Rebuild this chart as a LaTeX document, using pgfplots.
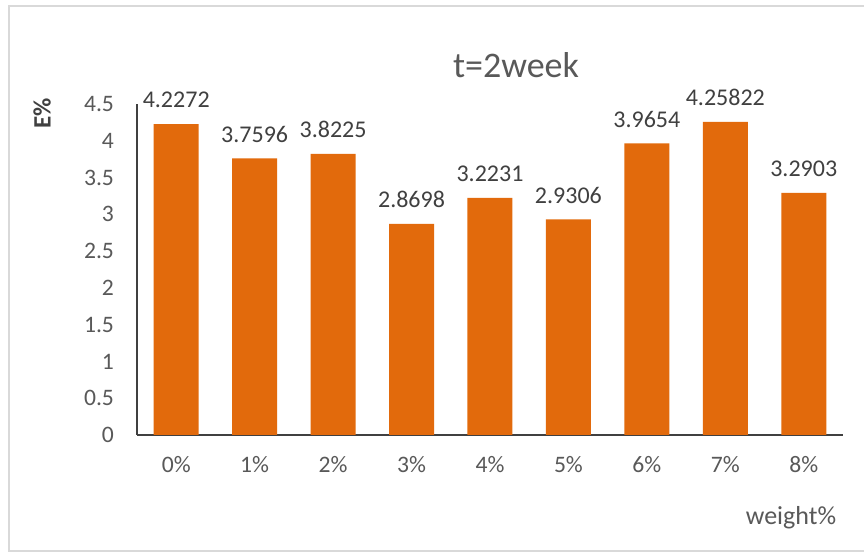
\documentclass[border=0pt]{standalone}
\usepackage{pgfplots}
\pgfplotsset{compat=1.18}
\usepackage{pgfplotstable}
\usepackage{fontspec}
\setmainfont{Carlito}
\definecolor{barorange}{HTML}{E26A0C}
\definecolor{txtgray}{HTML}{595959}
\definecolor{lblgray}{HTML}{404040}
\definecolor{bordergray}{HTML}{D9D9D9}
\pgfplotstableread{
x y lbl
0 4.2272 4.2272
1 3.7596 3.7596
2 3.8225 3.8225
3 2.8698 2.8698
4 3.2231 3.2231
5 2.9306 2.9306
6 3.9654 3.9654
7 4.25822 4.25822
8 3.2903 3.2903
}\datatable
\begin{document}
\begin{tikzpicture}[x=1pt,y=1pt]
\useasboundingbox (0,0) rectangle (432,276);
\fill[white] (0,0) rectangle (432,276);
\draw[bordergray, line width=0.8pt] (432,273) -- (4.5,273) -- (4.5,0.5) -- (432,0.5);
\begin{axis}[
  at={(68.5pt,58.5pt)}, anchor=south west,
  scale only axis, width=353pt, height=165.5pt,
  xmin=-0.5, xmax=8.5, ymin=0, ymax=4.5,
  axis x line=bottom, axis y line=left,
  axis line style={-, draw=black!75, line width=0.6pt},
  xtick=data,
  xticklabels={0\%,1\%,2\%,3\%,4\%,5\%,6\%,7\%,8\%},
  ytick={0,0.5,...,4.5},
  yticklabels={0,0.5,1,1.5,2,2.5,3,3.5,4,4.5},
  major tick length=0pt,
  tick label style={font=\fontsize{11.8}{14}\selectfont, text=txtgray},
  xticklabel style={yshift=-7pt},
  yticklabel style={xshift=-8pt},
  /pgf/number format/assume math mode=true,
  clip=false,
  ybar, bar width=22.5pt,
  nodes near coords,
  point meta=explicit symbolic,
  every node near coord/.append style={font=\fontsize{12}{14}\selectfont, text=lblgray, yshift=4.5pt},
]
\addplot[fill=barorange, draw=none] table[x=x, y=y, meta=lbl] {\datatable};
\end{axis}
\node[font=\fontsize{18}{21}\selectfont, text=txtgray] at (258,243.5) {t=2week};
\node[font=\bfseries\fontsize{12.5}{15}\selectfont, text=lblgray, rotate=90] at (21,219.5) {E\%};
\node[font=\fontsize{13}{15}\selectfont, text=txtgray] at (395.5,17) {weight\%};
\end{tikzpicture}
\end{document}
